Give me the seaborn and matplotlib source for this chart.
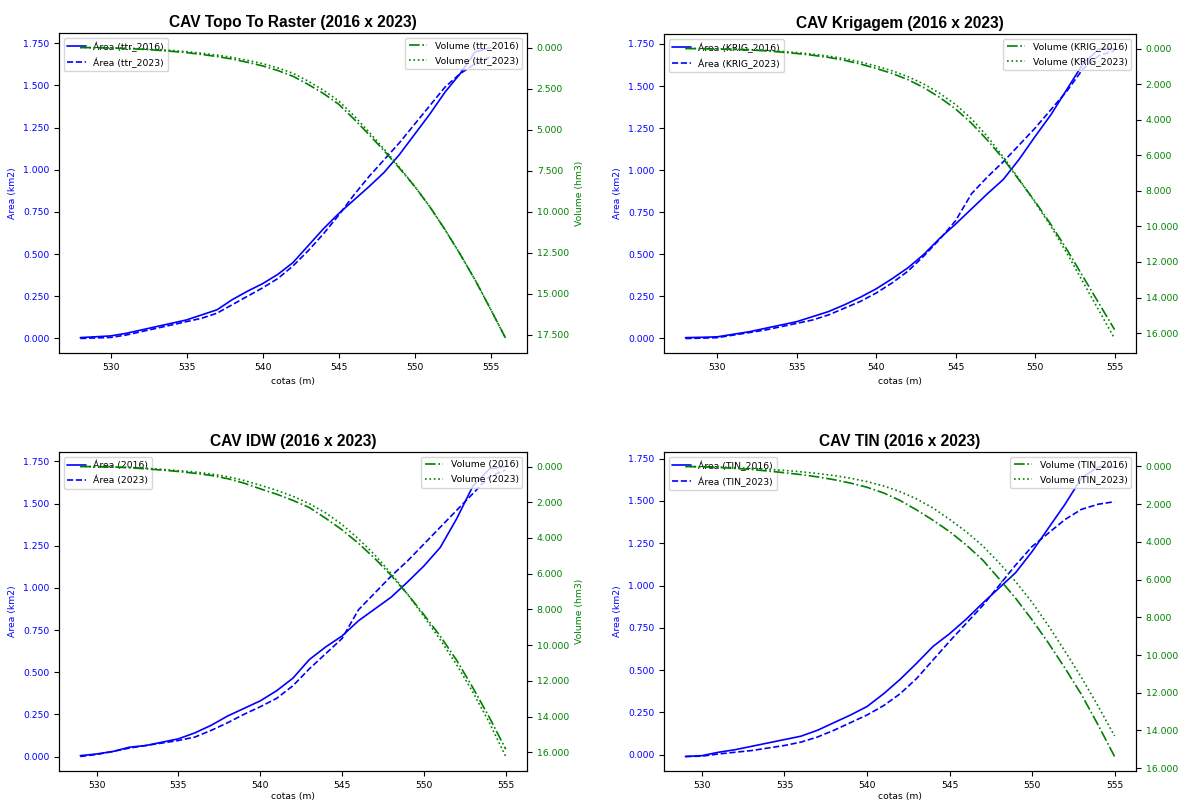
import matplotlib
matplotlib.use("Agg")
import matplotlib.pyplot as plt
import seaborn as sns
from matplotlib.ticker import FormatStrFormatter, MultipleLocator

# ---------------- data ----------------
# Topo To Raster
cotas_ttr_area = [528, 529, 530, 531, 532, 533, 534, 535, 536, 537, 538, 539, 540, 541,
                  542, 543, 544, 545, 546, 547, 548, 549, 550, 551, 552, 553, 554, 555]
area_ttr_2016 = [0.005, 0.01, 0.015, 0.03, 0.05, 0.07, 0.09, 0.11, 0.14, 0.17, 0.23, 0.28, 0.325, 0.38,
                 0.45, 0.55, 0.65, 0.74, 0.82, 0.90, 0.985, 1.09, 1.21, 1.33, 1.46, 1.57, 1.70, 1.725]
area_ttr_2023 = [0.0, 0.003, 0.006, 0.02, 0.04, 0.06, 0.08, 0.10, 0.12, 0.15, 0.2, 0.25, 0.30, 0.355,
                 0.43, 0.52, 0.62, 0.73, 0.85, 0.96, 1.06, 1.16, 1.27, 1.38, 1.49, 1.57, 1.63, 1.67]
cotas_ttr_vol = [528, 529, 530, 531, 532, 533, 534, 535, 536, 537, 538, 539, 540, 541, 542,
                 543, 544, 545, 546, 547, 548, 549, 550, 551, 552, 553, 554, 555, 556]
vol_ttr_2016 = [0.0, 0.01, 0.03, 0.06, 0.1, 0.16, 0.23, 0.31, 0.42, 0.55, 0.7, 0.9, 1.12, 1.4, 1.75,
                2.25, 2.8, 3.45, 4.35, 5.3, 6.3, 7.35, 8.46, 9.7, 11.1, 12.6, 14.2, 15.95, 17.74]
vol_ttr_2023 = [0.0, 0.005, 0.02, 0.04, 0.07, 0.12, 0.18, 0.25, 0.35, 0.46, 0.6, 0.78, 0.98, 1.24, 1.57,
                2.05, 2.6, 3.25, 4.15, 5.15, 6.2, 7.3, 8.45, 9.7, 11.1, 12.6, 14.2, 15.95, 17.74]

# Krigagem
cotas_krig = [528, 529, 530, 531, 532, 533, 534, 535, 536, 537, 538, 539, 540, 541,
              542, 543, 544, 545, 546, 547, 548, 549, 550, 551, 552, 553, 554, 555]
area_krig_2016 = [0.005, 0.007, 0.01, 0.025, 0.04, 0.06, 0.08, 0.10, 0.13, 0.16, 0.2, 0.245, 0.295, 0.355,
                  0.42, 0.50, 0.595, 0.68, 0.77, 0.86, 0.945, 1.065, 1.20, 1.33, 1.48, 1.63, 1.72, 1.723]
area_krig_2023 = [0.0, 0.002, 0.005, 0.02, 0.035, 0.05, 0.07, 0.09, 0.11, 0.14, 0.18, 0.22, 0.27, 0.33,
                  0.40, 0.49, 0.59, 0.70, 0.86, 0.96, 1.05, 1.15, 1.25, 1.36, 1.47, 1.60, 1.68, 1.71]
vol_krig_2016 = [0.0, 0.01, 0.03, 0.05, 0.08, 0.13, 0.2, 0.28, 0.38, 0.5, 0.66, 0.87, 1.12, 1.4,
                 1.75, 2.2, 2.75, 3.4, 4.2, 5.15, 6.2, 7.4, 8.6, 9.9, 11.3, 12.8, 14.3, 15.8]
vol_krig_2023 = [0.0, 0.005, 0.02, 0.04, 0.06, 0.1, 0.16, 0.23, 0.32, 0.43, 0.57, 0.76, 0.99, 1.25,
                 1.58, 2.0, 2.52, 3.15, 3.95, 4.95, 6.1, 7.35, 8.65, 10.0, 11.5, 13.1, 14.7, 16.3]

# IDW
cotas_idw = [529, 530, 531, 532, 533, 534, 535, 536, 537, 538, 539, 540, 541, 542,
             543, 544, 545, 546, 547, 548, 549, 550, 551, 552, 553, 554, 555]
area_idw_2016 = [0.005, 0.015, 0.03, 0.055, 0.065, 0.085, 0.105, 0.14, 0.185, 0.24, 0.285, 0.33, 0.39, 0.465,
                 0.575, 0.65, 0.715, 0.805, 0.875, 0.945, 1.035, 1.13, 1.24, 1.41, 1.605, 1.705, 1.72]
area_idw_2023 = [0.0, 0.012, 0.03, 0.05, 0.065, 0.08, 0.095, 0.115, 0.155, 0.2, 0.25, 0.295, 0.345, 0.42,
                 0.52, 0.61, 0.70, 0.87, 0.97, 1.07, 1.16, 1.26, 1.36, 1.46, 1.56, 1.66, 1.70]
vol_idw_2016 = [0.0, 0.01, 0.03, 0.07, 0.13, 0.2, 0.28, 0.38, 0.5, 0.68, 0.93, 1.25, 1.55, 1.9,
                2.3, 2.9, 3.55, 4.3, 5.15, 6.1, 7.15, 8.3, 9.5, 10.85, 12.4, 14.05, 15.83]
vol_idw_2023 = [0.0, 0.01, 0.02, 0.05, 0.1, 0.16, 0.23, 0.31, 0.42, 0.57, 0.78, 1.05, 1.33, 1.67,
                2.08, 2.6, 3.25, 4.05, 4.95, 6.0, 7.15, 8.4, 9.7, 11.1, 12.65, 14.35, 16.24]

# TIN
cotas_tin = [529, 530, 531, 532, 533, 534, 535, 536, 537, 538, 539, 540, 541, 542,
             543, 544, 545, 546, 547, 548, 549, 550, 551, 552, 553, 554, 555]
area_tin_2016 = [-0.01, -0.005, 0.015, 0.03, 0.05, 0.07, 0.09, 0.11, 0.145, 0.19, 0.235, 0.285, 0.36, 0.445,
                 0.54, 0.64, 0.715, 0.80, 0.895, 0.985, 1.075, 1.20, 1.34, 1.48, 1.635, 1.70, 1.703]
area_tin_2023 = [-0.01, -0.008, 0.005, 0.015, 0.025, 0.04, 0.055, 0.075, 0.105, 0.145, 0.19, 0.235, 0.29, 0.36,
                 0.45, 0.56, 0.67, 0.775, 0.88, 1.00, 1.12, 1.23, 1.31, 1.39, 1.45, 1.48, 1.495]
vol_tin_2016 = [0.0, 0.02, 0.05, 0.1, 0.16, 0.24, 0.33, 0.43, 0.55, 0.7, 0.88, 1.1, 1.4, 1.8,
                2.3, 2.85, 3.45, 4.15, 4.95, 5.95, 6.98, 8.13, 9.37, 10.7, 12.1, 13.7, 15.38]
vol_tin_2023 = [0.0, 0.01, 0.03, 0.06, 0.1, 0.15, 0.21, 0.28, 0.37, 0.48, 0.62, 0.8, 1.03, 1.33,
                1.72, 2.2, 2.8, 3.45, 4.2, 5.1, 6.1, 7.2, 8.45, 9.8, 11.2, 12.7, 14.29]

titles = ["CAV Topo To Raster (2016 x 2023)", "CAV Krigagem (2016 x 2023)",
          "CAV IDW (2016 x 2023)", "CAV TIN (2016 x 2023)"]
tags = ["ttr_", "KRIG_", "", "TIN_"]

# ---------------- style ----------------
sns.set_theme(style="ticks")
plt.rcParams.update({
    "font.family": ["DejaVu Sans"],
    "font.size": 6.7,
    "axes.edgecolor": "black",
    "axes.linewidth": 0.8,
    "xtick.major.size": 3.5,
    "ytick.major.size": 3.5,
    "xtick.major.width": 0.8,
    "ytick.major.width": 0.8,
    "xtick.labelsize": 6.7,
    "ytick.labelsize": 6.7,
    "axes.labelsize": 6.7,
    "legend.fontsize": 6.7,
    "legend.labelspacing": 0.6,
    "text.color": "black",
    "xtick.color": "black",
    "ytick.color": "black",
    "axes.labelcolor": "black",
})

fig = plt.figure(figsize=(11.78, 8), dpi=100)

rects = [
    (59 / 1178, 1 - 353 / 800, 468 / 1178, 320 / 800),
    (664 / 1178, 1 - 353 / 800, 472 / 1178, 319 / 800),
    (59 / 1178, 1 - 771 / 800, 468 / 1178, 319 / 800),
    (664 / 1178, 1 - 771 / 800, 472 / 1178, 319 / 800),
]

panels = [
    (cotas_ttr_area, area_ttr_2016, area_ttr_2023, cotas_ttr_vol, vol_ttr_2016, vol_ttr_2023, 2.5),
    (cotas_krig, area_krig_2016, area_krig_2023, cotas_krig, vol_krig_2016, vol_krig_2023, 2.0),
    (cotas_idw, area_idw_2016, area_idw_2023, cotas_idw, vol_idw_2016, vol_idw_2023, 2.0),
    (cotas_tin, area_tin_2016, area_tin_2023, cotas_tin, vol_tin_2016, vol_tin_2023, 2.0),
]

for i, (rect, title, tag, (xa, a16, a23, xv, v16, v23, vstep)) in enumerate(zip(rects, titles, tags, panels)):
    ax = fig.add_axes(rect)
    sns.lineplot(x=xa, y=a16, ax=ax, color="blue", linestyle="-", linewidth=1.2,
                 label=f"Área ({tag}2016)")
    sns.lineplot(x=xa, y=a23, ax=ax, color="blue", linestyle="--", linewidth=1.2,
                 label=f"Área ({tag}2023)")
    ax.set_xlabel("cotas (m)", labelpad=2 if i >= 2 else 4)
    ax.set_ylabel("Area (km2)", color="blue")
    ax.tick_params(axis="y", labelcolor="blue")
    ax.yaxis.set_major_locator(MultipleLocator(0.25))
    ax.yaxis.set_major_formatter(FormatStrFormatter("%.3f"))
    ax.xaxis.set_major_locator(MultipleLocator(5))
    ax.legend(loc="upper left", framealpha=0.8, edgecolor="0.8", fancybox=True)
    ax.set_title(title, fontsize=11.2, fontweight="bold",
                 family=["Liberation Sans", "DejaVu Sans"], pad=4)

    ax2 = ax.twinx()
    sns.lineplot(x=xv, y=v16, ax=ax2, color="green", linestyle="-.", linewidth=1.2,
                 label=f"Volume ({tag}2016)")
    sns.lineplot(x=xv, y=v23, ax=ax2, color="green", linestyle=":", linewidth=1.2,
                 label=f"Volume ({tag}2023)")
    ax2.invert_yaxis()
    ax2.set_ylabel("Volume (hm3)", color="green")
    ax2.tick_params(axis="y", labelcolor="green")
    ax2.yaxis.set_major_locator(MultipleLocator(vstep))
    ax2.yaxis.set_major_formatter(FormatStrFormatter("%.3f"))
    ax2.legend(loc="upper right", framealpha=0.8, edgecolor="0.8", fancybox=True)

fig.savefig("out.png", dpi=100)
